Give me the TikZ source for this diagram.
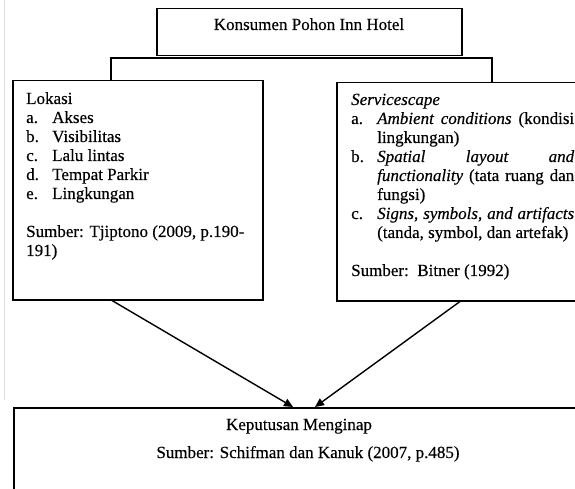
\documentclass[tikz,border=0pt]{standalone}
\usepackage{fontspec}
\setmainfont{Liberation Serif}[FakeBold=0.35]
\usetikzlibrary{arrows.meta}
\tikzset{
  box/.style={draw=black, line width=1.5pt, rectangle, inner sep=0pt, anchor=north west},
  txt/.style={inner sep=0pt, font=\fontsize{17}{19}\selectfont},
  arr/.style={draw=black, line width=1.4pt, -{Triangle[length=9pt,width=8pt]}},
  conn/.style={draw=black, line width=1.5pt}
}
\begin{document}
\begin{tikzpicture}[x=1pt,y=-1pt]
\useasboundingbox (0,0) rectangle (575,489);
\clip (0,0) rectangle (575,489);
% faint page edge
\draw[gray!25, line width=1pt] (4,0) -- (4,400);
% boxes
\node[box, minimum width=305pt, minimum height=47pt] (top) at (156,8) {};
\node[box, minimum width=250pt, minimum height=219pt] (lbox) at (12,80) {};
\node[box, minimum width=270pt, minimum height=218pt] (rbox) at (336,82) {};
\node[box, minimum width=600pt, minimum height=120pt] (bbox) at (13,407) {};
% texts
\node[txt, anchor=base] (ttop) at (309,30) {Konsumen Pohon Inn Hotel};
\node[txt, anchor=base west] (tleft) at (26,104) {%
\begin{minipage}[t]{236pt}\fontsize{17}{19}\selectfont\raggedright\parindent=0pt
Lokasi\\
\makebox[26pt][l]{a.}Akses\\
\makebox[26pt][l]{b.}Visibilitas\\
\makebox[26pt][l]{c.}Lalu lintas\\
\makebox[26pt][l]{d.}Tempat Parkir\\
\makebox[26pt][l]{e.}Lingkungan\\
\mbox{}\\
Sumber: Tjiptono (2009, p.190-\\
191)
\end{minipage}};
\node[txt, anchor=base west] (tright) at (351,105) {%
\begin{minipage}[t]{223pt}\fontsize{17}{19}\selectfont\parindent=0pt
\textit{Servicescape}\par
\hangindent=26pt\hangafter=1\makebox[26pt][l]{a.}\textit{Ambient conditions} (kondisi\linebreak lingkungan)\par
\hangindent=26pt\hangafter=1\makebox[26pt][l]{b.}\textit{Spatial layout and}\linebreak \textit{functionality} (tata ruang dan\linebreak fungsi)\par
\hangindent=26pt\hangafter=1\makebox[26pt][l]{c.}\textit{Signs, symbols, and artifacts}\linebreak (tanda, symbol, dan artefak)\par
\mbox{}\par
Sumber:\ \ Bitner (1992)
\end{minipage}};
\node[txt, anchor=base] (tb1) at (299,430) {Keputusan Menginap};
\node[txt, anchor=base] (tb2) at (308,458) {Sumber: Schifman dan Kanuk (2007, p.485)};
% bracket connector
\coordinate (bl) at (111,58);
\coordinate (br) at (492,58);
\draw[conn] (bl |- lbox.north) -- (bl) -- (br) -- (br |- rbox.north);
% arrows
\draw[arr] ([xshift=100pt]lbox.south west) -- ([xshift=280pt]bbox.north west);
\draw[arr] ([xshift=124pt]rbox.south west) -- ([xshift=302pt]bbox.north west);
\end{tikzpicture}
\end{document}
